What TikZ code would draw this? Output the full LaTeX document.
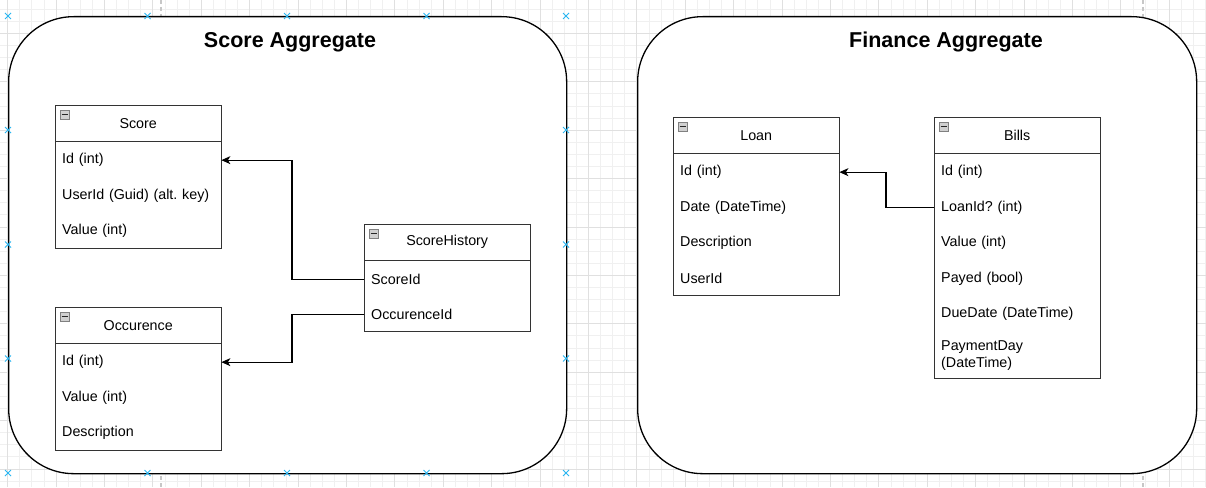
\documentclass[tikz,border=0pt]{standalone}
\usepackage{fontspec}
\setmainfont{Liberation Sans}
\usetikzlibrary{arrows.meta,calc}
\definecolor{gridminor}{HTML}{F0F0F0}
\definecolor{gridmajor}{HTML}{E0E0E0}
\definecolor{handle}{HTML}{29B6F2}
\definecolor{tblline}{HTML}{333333}
\definecolor{iconfill}{HTML}{D0D0D0}
\newcommand{\rowfont}{\frenchspacing\fontsize{14.3}{17}\selectfont}
\newcommand{\titlefont}{\frenchspacing\fontsize{21.5}{25}\selectfont\bfseries}
\tikzset{
  agg/.style={draw=black, line width=1.3pt, fill=white, rounded corners=65pt, anchor=north west, inner sep=0pt},
  aggtitle/.style={font=\titlefont, inner sep=0pt},
  tbl/.style={draw=tblline, line width=1.2pt, fill=white, anchor=north west, minimum width=166pt, inner sep=0pt},
  hdr/.style={anchor=north west, minimum width=166pt, minimum height=36pt, inner sep=0pt, font=\rowfont},
  row/.style={anchor=north west, minimum height=35.5pt, text width=152pt, inner xsep=7pt, inner ysep=0pt, align=left, font=\rowfont, yshift=-1.2pt},
  hline/.style={draw=tblline, line width=1.2pt},
  conn/.style={draw=black, line width=1.1pt, -{Stealth[length=9pt,width=8pt,inset=2.5pt]}},
  icon/.style={draw=gray, fill=iconfill, line width=0.7pt, minimum width=9.5pt, minimum height=9.5pt, inner sep=0pt, anchor=north west},
  handlemark/.style={draw=handle, line width=1pt},
  pagebreak/.style={draw=black!22, line width=1.2pt, dash pattern=on 4pt off 3pt}
}
\newcommand{\tblicon}[2]{%
  \node[icon] (#1) at (#2) {};
  \draw[black!85, line width=1.5pt] ($(#1.west)+(2,0)$) -- ($(#1.east)+(-2,0)$);
}
\newcommand{\hmark}[2]{%
  \draw[handlemark] (#1-3,#2-3) -- (#1+3,#2+3) (#1-3,#2+3) -- (#1+3,#2-3);
}
\begin{document}
\begin{tikzpicture}[x=1pt,y=-1pt]
\useasboundingbox (0,0) rectangle (1206,487);
\fill[white] (0,0) rectangle (1206,487);
% grid
\foreach \i in {-1,...,100} {
  \draw[gridminor, line width=0.8pt] ({7.6+12.1*\i},0) -- ({7.6+12.1*\i},487);
}
\foreach \i in {-3,...,40} {
  \draw[gridminor, line width=0.8pt] (0,{33.3+12.1*\i}) -- (1206,{33.3+12.1*\i});
}
\foreach \i in {0,...,25} {
  \draw[gridmajor, line width=0.8pt] ({7.6+48.4*\i},0) -- ({7.6+48.4*\i},487);
}
\foreach \i in {-1,...,10} {
  \draw[gridmajor, line width=0.8pt] (0,{33.3+48.4*\i}) -- (1206,{33.3+48.4*\i});
}
% page break lines
\draw[pagebreak] (161,0) -- (161,487);
\draw[pagebreak] (1143,0) -- (1143,487);

% aggregates
\node[agg, minimum width=558pt, minimum height=457pt] (scoreagg) at (8,16) {};
\node[aggtitle] (scoretitle) at (290,42) {Score Aggregate};
\node[agg, minimum width=559pt, minimum height=457pt] (finagg) at (637,16) {};
\node[aggtitle] (fintitle) at (946,42) {Finance Aggregate};

% Score table
\node[tbl, minimum height=142.5pt] (score) at (55,105) {};
\node[hdr] (score-h) at (55,105) {Score};
\draw[hline] (score-h.south west) -- (score-h.south east);
\tblicon{score-i}{59.5,109.5}
\node[row] (s-id) at (55,141) {Id (int)};
\node[row] (s-user) at (55,176.5) {UserId (Guid) (alt. key)};
\node[row] (s-val) at (55,212) {Value (int)};

% Occurence table
\node[tbl, minimum height=142.5pt] (occ) at (55,307) {};
\node[hdr] (occ-h) at (55,307) {Occurence};
\draw[hline] (occ-h.south west) -- (occ-h.south east);
\tblicon{occ-i}{59.5,311.5}
\node[row] (o-id) at (55,343) {Id (int)};
\node[row] (o-val) at (55,378.5) {Value (int)};
\node[row] (o-desc) at (55,414) {Description};

% ScoreHistory table
\node[tbl, minimum height=107pt] (sh) at (364,224) {};
\node[hdr] (sh-h) at (364,224) {ScoreHistory};
\draw[hline] (sh-h.south west) -- (sh-h.south east);
\tblicon{sh-i}{368.5,228.5}
\node[row] (sh-sid) at (364,260) {ScoreId};
\node[row] (sh-oid) at (364,295.5) {OccurenceId};

% Loan table
\node[tbl, minimum height=178pt] (loan) at (673,117) {};
\node[hdr] (loan-h) at (673,117) {Loan};
\draw[hline] (loan-h.south west) -- (loan-h.south east);
\tblicon{loan-i}{677.5,121.5}
\node[row] (l-id) at (673,153) {Id (int)};
\node[row] (l-date) at (673,188.5) {Date (DateTime)};
\node[row] (l-desc) at (673,224) {Description};
\node[row] (l-user) at (673,259.5) {UserId};

% Bills table
\node[tbl, minimum height=261pt] (bills) at (934,117) {};
\node[hdr] (bills-h) at (934,117) {Bills};
\draw[hline] (bills-h.south west) -- (bills-h.south east);
\tblicon{bills-i}{938.5,121.5}
\node[row] (b-id) at (934,153) {Id (int)};
\node[row] (b-loan) at (934,188.5) {LoanId? (int)};
\node[row] (b-val) at (934,224) {Value (int)};
\node[row] (b-pay) at (934,259.5) {Payed (bool)};
\node[row] (b-due) at (934,295) {DueDate (DateTime)};
\node[row, minimum height=47.5pt, text width=95pt] (b-pd) at (934,330.5) {PaymentDay\\(DateTime)};

% connectors
\draw[conn] (sh-sid.west) -- ++(-72,0) |- (s-id.east);
\draw[conn] (sh-oid.west) -- ++(-72,0) |- (o-id.east);
\draw[conn] (b-loan.west) -- ++(-48,0) |- (l-id.east);

% selection handles
\foreach \x in {8,147.5,287,426.5,566} {
  \hmark{\x}{16}
  \hmark{\x}{473}
}
\foreach \y in {130,244.5,358.5} {
  \hmark{8}{\y}
  \hmark{566}{\y}
}
\end{tikzpicture}
\end{document}
